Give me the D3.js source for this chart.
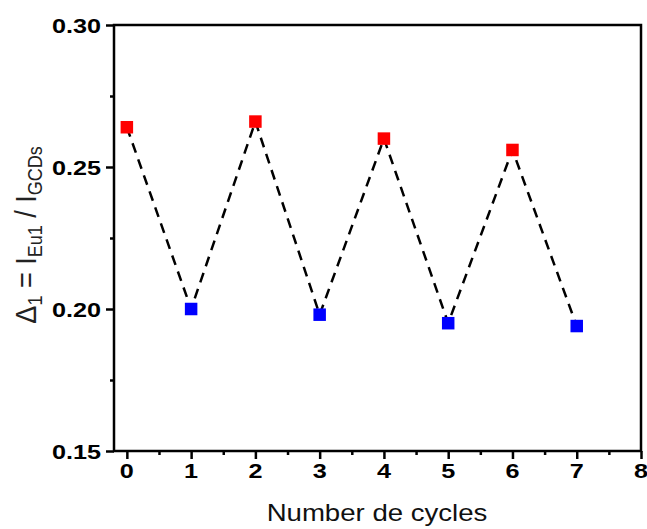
<!DOCTYPE html>
<html><head><meta charset="utf-8">
<script src="https://cdn.jsdelivr.net/npm/d3@7"></script>
<style>body{margin:0;background:#fff}svg{display:block}text{font-family:"Liberation Sans",Arial,sans-serif}</style>
</head><body><svg id="c" width="647" height="529"></svg>
<script>
const cycles = [0,1,2,3,4,5,6,7];
const values = [0.264,0.200,0.266,0.198,0.260,0.195,0.256,0.194];
const colors = ["#ff0000","#0000ff","#ff0000","#0000ff","#ff0000","#0000ff","#ff0000","#0000ff"];
const xTicks = [0,1,2,3,4,5,6,7,8];
const yTicks = [0.15,0.20,0.25,0.30];

const svg = d3.select("#c");
const L=114, R=641, T=25, B=451;
const SX = 1.2; // horizontal stretch of glyphs seen in reference
const x = d3.scaleLinear().domain([-0.2,8]).range([L,R]);
const y = d3.scaleLinear().domain([0.15,0.30]).range([B,T]);

// frame
svg.append("rect").attr("x",L).attr("y",T).attr("width",R-L).attr("height",B-T)
  .attr("fill","none").attr("stroke","#000").attr("stroke-width",2.5);

// x axis ticks
const xa = svg.append("g").attr("transform",`translate(0,${B})`)
  .call(d3.axisBottom(x).tickValues(xTicks).tickFormat("").tickSize(8).tickSizeOuter(0));
xa.select(".domain").remove();
xa.selectAll("line").attr("stroke-width",2.5);
const xm = svg.append("g").attr("transform",`translate(0,${B})`)
  .call(d3.axisBottom(x).tickValues(d3.range(0.5,8,1)).tickFormat("").tickSize(4).tickSizeOuter(0));
xm.select(".domain").remove(); xm.selectAll("line").attr("stroke-width",2.5);
svg.append("g").selectAll("text").data(xTicks).enter().append("text")
  .attr("transform",d=>`translate(${x(d)},${B+27}) scale(${SX},1)`)
  .attr("text-anchor","middle").attr("font-size",21).attr("font-weight","bold").attr("fill","#000")
  .text(d3.format("d"));

// y axis ticks
const ya = svg.append("g").attr("transform",`translate(${L},0)`)
  .call(d3.axisLeft(y).tickValues(yTicks).tickFormat("").tickSize(8).tickSizeOuter(0));
ya.select(".domain").remove();
ya.selectAll("line").attr("stroke-width",2.5);
const ym = svg.append("g").attr("transform",`translate(${L},0)`)
  .call(d3.axisLeft(y).tickValues([0.175,0.225,0.275]).tickFormat("").tickSize(4).tickSizeOuter(0));
ym.select(".domain").remove(); ym.selectAll("line").attr("stroke-width",2.5);
svg.append("g").selectAll("text").data(yTicks).enter().append("text")
  .attr("transform",d=>`translate(${L-13},${y(d)+7.5}) scale(${SX},1)`)
  .attr("text-anchor","end").attr("font-size",21).attr("font-weight","bold").attr("fill","#000")
  .text(d3.format(".2f"));

// dashed line
const pts = cycles.map((c,i)=>[c,values[i]]);
svg.append("path").datum(pts)
  .attr("d", d3.line().x(d=>x(d[0])).y(d=>y(d[1])))
  .attr("fill","none").attr("stroke","#000").attr("stroke-width",2.5).attr("stroke-dasharray","10,7");

// markers
const s=12.5;
svg.selectAll("rect.m").data(pts).enter().append("rect").attr("class","m")
  .attr("x",d=>x(d[0])-s/2).attr("y",d=>y(d[1])-s/2).attr("width",s).attr("height",s)
  .attr("fill",(d,i)=>colors[i]);

// x title
svg.append("text").attr("transform",`translate(377,521) scale(${SX},1)`).attr("text-anchor","middle")
  .attr("font-size",23).attr("fill","#111").text("Number de cycles");

// y title
const yt = svg.append("text").attr("transform",`translate(36,235) scale(1.08,1) rotate(-90)`)
  .attr("text-anchor","middle").attr("font-size",27).attr("fill","#222");
yt.append("tspan").text("Δ");
yt.append("tspan").attr("font-size",18).attr("dy",6).text("1");
yt.append("tspan").attr("dy",-6).text(" = I");
yt.append("tspan").attr("font-size",18).attr("dy",6).text("Eu1");
yt.append("tspan").attr("dy",-6).text(" / I");
yt.append("tspan").attr("font-size",18).attr("dy",6).text("GCDs");
</script></body></html>
